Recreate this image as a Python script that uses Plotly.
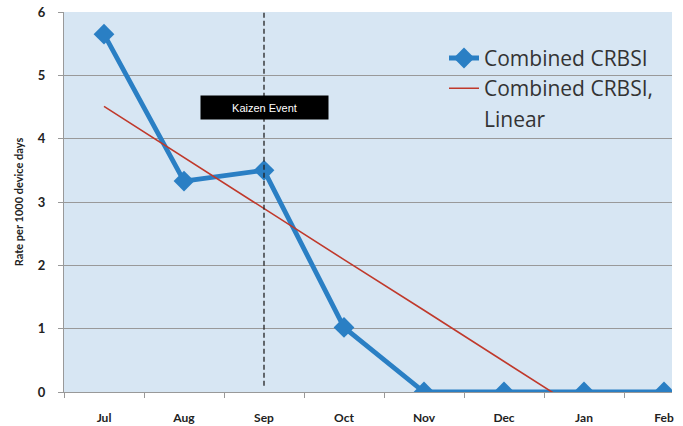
import plotly.graph_objects as go

months = ["Jul", "Aug", "Sep", "Oct", "Nov", "Dec", "Jan", "Feb"]
crbsi = [5.65, 3.33, 3.5, 1.02, 0, 0, 0, 0]
linear_trend = [4.51, 3.70, 2.90, 2.09, 1.29, 0.48, -0.32, -1.13]
y_ticks = [0, 1, 2, 3, 4, 5, 6]
event_month = "Sep"
event_label = "Kaizen Event"

fig = go.Figure()
fig.add_trace(go.Scatter(
    x=months, y=crbsi, name="Combined CRBSI", mode="lines+markers",
    line=dict(color="#2a7fc4", width=4.8),
    marker=dict(symbol="diamond", size=16, color="#2a7fc4"),
))
fig.add_trace(go.Scatter(
    x=months, y=linear_trend, name="Combined CRBSI,", mode="lines",
    line=dict(color="#c0392b", width=1.6),
))
# second line of the wrapped legend label
fig.add_trace(go.Scatter(
    x=[None], y=[None], name="Linear", mode="lines",
    line=dict(color="rgba(0,0,0,0)", width=1), hoverinfo="skip",
))

fig.add_shape(type="line", x0=event_month, x1=event_month, y0=0.1, y1=6,
              xref="x", yref="y", line=dict(color="#222222", width=1.3, dash="5px,3px"))
fig.add_annotation(x=event_month, y=4.5, xref="x", yref="y", text=event_label,
                   showarrow=False, bgcolor="black", width=125, height=21, borderpad=1,
                   font=dict(family="Liberation Sans, Arial", size=11, color="white"))

fig.update_layout(
    width=683, height=426,
    margin=dict(l=64, r=11, t=12, b=34),
    paper_bgcolor="white", plot_bgcolor="#d7e6f3",
    showlegend=True,
    legend=dict(x=0.625, y=0.932, xanchor="left", yanchor="top",
                bgcolor="rgba(0,0,0,0)", font=dict(family="Open Sans", size=21, color="#333333"),
                itemwidth=30),
    xaxis=dict(type="category", categoryorder="array", categoryarray=months,
               range=[-0.5, 7.1], tickson="boundaries", ticks="outside", ticklen=5,
               tickcolor="#999999", showline=True, linecolor="#999999", linewidth=1,
               showgrid=False, zeroline=False, automargin=False, ticklabelstandoff=15,
               tickfont=dict(family="Lato", size=12, color="#222222", weight="bold")),
    yaxis=dict(range=[0, 6], tickvals=y_ticks, ticks="outside", ticklen=5,
               tickcolor="#999999", showline=True, linecolor="#999999", linewidth=1,
               showgrid=True, gridcolor="#999999", gridwidth=1, zeroline=False,
               automargin=False, ticklabelstandoff=10,
               tickfont=dict(family="Lato", size=13, color="#222222", weight="bold"),
               title=dict(text="Rate per 1000 device days", standoff=12,
                          font=dict(family="Lato", size=11, color="#222222", weight="bold"))),
)

fig.write_html("out.html", config={"displayModeBar": False},
               post_script="document.body.style.margin='0';")
